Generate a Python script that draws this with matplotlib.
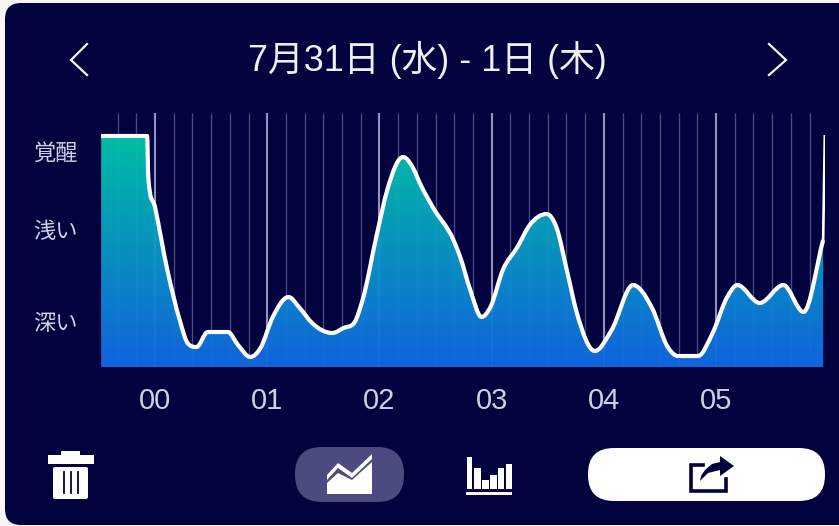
import numpy as np
import matplotlib
matplotlib.use("Agg")
import matplotlib.pyplot as plt
from matplotlib.path import Path
from matplotlib.patches import PathPatch, FancyBboxPatch, Polygon, Rectangle

LATIN_CJK = ['Liberation Sans', 'Noto Sans CJK JP', 'DejaVu Sans']
plt.rcParams['font.family'] = LATIN_CJK

# ---- data -------------------------------------------------------------
title = "7月31日 (水) - 1日 (木)"
hour_labels = ["00", "01", "02", "03", "04", "05"]
hour_ticks = [0, 1, 2, 3, 4, 5]
depth_labels = ["深い", "浅い", "覚醒"]
depth_ticks = [45, 137, 215]
hours = [-0.48, -0.07, -0.06, 0.0, 0.11, 0.22, 0.29, 0.37, 0.47, 0.65, 0.74, 0.85,
         0.94, 1.05, 1.19, 1.29, 1.40, 1.58, 1.68, 1.78, 1.85, 1.98, 2.07, 2.21,
         2.30, 2.36, 2.48, 2.66, 2.72, 2.81, 2.91, 2.99, 3.10, 3.23, 3.34, 3.49, 3.58,
         3.67, 3.76, 3.92, 4.07, 4.26, 4.43, 4.57, 4.66, 4.84, 4.97, 5.10, 5.19,
         5.39, 5.60, 5.78, 5.955, 5.97]
depth = [231, 231, 190, 160, 97, 47, 24, 20, 35, 35, 22, 10,
         19, 50, 70, 59, 44, 34, 39, 45, 67, 134, 177, 210,
         199, 184, 159, 127, 110, 77, 50, 60, 97, 120, 142, 153, 139,
         97, 54, 16, 37, 82, 59, 20, 11, 11, 34, 70, 82,
         64, 82, 55, 127, 232]

BG = "#02023e"
W, H = 839, 526


def smooth_path(x, y):
    """Cubic Bezier through the points: flat at turning points, no overshoot."""
    x, y = np.asarray(x, float), np.asarray(y, float)
    dx = np.diff(x)
    s = np.diff(y) / dx
    m = np.zeros_like(y)
    for i in range(1, len(x) - 1):
        if s[i - 1] * s[i] > 0:
            g = (s[i - 1] * dx[i] + s[i] * dx[i - 1]) / (dx[i] + dx[i - 1])
            m[i] = np.sign(g) * min(abs(g), 3 * min(abs(s[i - 1]), abs(s[i])))
    m[0], m[-1] = 0, s[-1]
    verts = [(x[0], y[0])]
    codes = [Path.MOVETO]
    for i in range(len(x) - 1):
        verts += [(x[i] + dx[i] / 3, y[i] + m[i] * dx[i] / 3),
                  (x[i + 1] - dx[i] / 3, y[i + 1] - m[i + 1] * dx[i] / 3),
                  (x[i + 1], y[i + 1])]
        codes += [Path.CURVE4] * 3
    return verts, codes


fig = plt.figure(figsize=(W / 100, H / 100), dpi=100, facecolor="#f7f7f7")

# ---- panel and interface furniture, in pixel coordinates ----------------
ui = fig.add_axes([0, 0, 1, 1], zorder=0)
ui.set_xlim(0, W)
ui.set_ylim(H, 0)
ui.axis("off")
ui.add_patch(FancyBboxPatch((5, 3), 870, 522, boxstyle="round,pad=0,rounding_size=16",
                            fc=BG, ec="none"))
ui.text(427.5, 60, title, color="#eeeef5", fontsize=25.8, ha="center", va="center")
ui.plot([87, 71, 87], [44, 60, 75], color="#f4f4f8", lw=1.6, solid_joinstyle="miter")
ui.plot([769, 786, 769], [44, 60, 75], color="#f4f4f8", lw=1.6, solid_joinstyle="miter")

# trash can
ui.add_patch(Rectangle((61, 451), 19, 5, fc="white", ec="none"))
ui.add_patch(Rectangle((48, 455), 46, 9, fc="white", ec="none"))
ui.add_patch(FancyBboxPatch((53, 467), 35, 32, boxstyle="round,pad=0,rounding_size=2", fc="white", ec="none"))
for px in (64, 71, 78):
    ui.plot([px, px], [472, 493], color=BG, lw=1.3)

# line-chart toggle
ui.add_patch(FancyBboxPatch((295, 447), 109, 55, boxstyle="round,pad=0,rounding_size=27",
                            fc="#4b4b80", ec="none"))
ui.add_patch(Polygon([(327, 494), (327, 483), (338, 473), (352, 480), (372, 462), (372, 494)], fc="white", ec="none"))
ui.add_patch(Polygon([(327, 475), (338, 463), (352, 473), (372, 454), (372, 459), (352, 478), (338, 468), (327, 480)], fc="white", ec="none"))

# bar-chart toggle
for left, right, top in zip((467, 474, 482, 490, 498, 505.5), (472, 480.5, 488.5, 496.5, 504, 512),
                            (457, 468, 480, 475, 468, 464)):
    ui.add_patch(Rectangle((left, top), right - left, 489 - top, fc="white", ec="none"))
ui.add_patch(Rectangle((466, 492), 46, 3, fc="white", ec="none"))

# share button
ui.add_patch(FancyBboxPatch((588, 448), 237, 53, boxstyle="round,pad=0,rounding_size=26",
                            fc="white", ec="none"))
ui.plot([703, 690.5, 690.5, 725.5, 725.5], [464.5, 464.5, 490.5, 490.5, 479], color=BG, lw=2.6, solid_joinstyle="miter")
ui.add_patch(Polygon([(720, 456), (734, 466), (720, 476), (720, 470), (708, 473), (700, 481),
                      (701, 476), (705, 470), (712, 464), (720, 462)], fc=BG, ec="none"))

# ---- the chart ----------------------------------------------------------
x0, x1, y_bot, y_top = 101, 825, 367, 113
ax = fig.add_axes([x0 / W, 1 - y_bot / H, (x1 - x0) / W, (y_bot - y_top) / H], zorder=1)
ax.patch.set_alpha(0)
for s in ax.spines.values():
    s.set_visible(False)

ax.set_xticks(hour_ticks, hour_labels, color="#cfcfe6", fontsize=21)
ax.set_yticks(depth_ticks, depth_labels, color="#cfcfe6", fontsize=16)
ax.tick_params(length=0)
ax.tick_params(axis="x", pad=14.5)
ax.tick_params(axis="y", pad=17)

span = y_bot - y_top
minor = [h / 6 for h in range(-2, 36) if h % 6 and h / 6 < 5.9]
ax.vlines(minor, 0, span, color="#8f8fc8", lw=1.0, alpha=0.5, zorder=1)
ax.vlines(hour_ticks, 0, span, color="#b9b9e6", lw=1.5, alpha=0.8, zorder=1)

# the last point is the thin closing spike: it gets a line but no fill
verts, codes = smooth_path(hours[:-1], depth[:-1])
fill_verts = verts + [(hours[-2], 0), (hours[0], 0), (hours[0], depth[0])]
fill_codes = codes + [Path.LINETO, Path.LINETO, Path.LINETO]
clip = PathPatch(Path(fill_verts, fill_codes), fc="none", ec="none", transform=ax.transData)
ax.add_patch(clip)

t = np.linspace(0, 1, 256)[:, None]
top_c = np.array([0, 198, 168]) / 255
bot_c = np.array([18, 104, 228]) / 255
grad = (top_c * (1 - t) + bot_c * t)[:, None, :]
im = ax.imshow(grad, extent=[hours[0], hours[-2], 0, 231], aspect="auto", zorder=2,
               alpha=0.96, interpolation="bilinear")
im.set_clip_path(clip)
ax.set_xlim((x0 - 155) / 112.2, (x1 - 155) / 112.2)
ax.set_ylim(0, span)

ax.add_patch(PathPatch(Path(verts, codes), fc="none", ec="white", lw=3.0, zorder=3,
                       capstyle="butt", joinstyle="round"))
ax.plot(hours[-2:], depth[-2:], color="white", lw=1.9, zorder=3, solid_capstyle="butt")

fig.savefig("out.png", dpi=100, facecolor=fig.get_facecolor())
